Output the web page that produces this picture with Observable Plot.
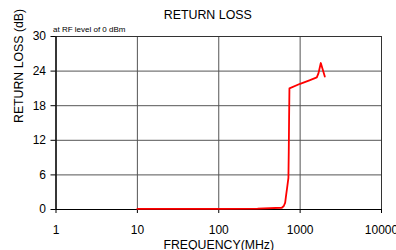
<!DOCTYPE html>
<html>
<head>
<meta charset="utf-8">
<script src="https://cdn.jsdelivr.net/npm/d3@7"></script>
<script src="https://cdn.jsdelivr.net/npm/@observablehq/plot@0.6"></script>
<style>
  html, body { margin: 0; padding: 0; background: #fff; overflow: hidden; }
  #chart { width: 396px; height: 250px; overflow: hidden; }
</style>
</head>
<body>
<div id="chart"></div>
<script>
// Data
const freqMHz = [10, 100, 300, 596, 630, 655, 673, 690, 718, 725, 732, 739, 1000, 1300, 1603, 1679, 1795, 2010];
const returnLossDb = [0.1, 0.1, 0.15, 0.3, 0.6, 1.2, 2.5, 3.6, 5.5, 10, 16, 21, 21.8, 22.4, 22.9, 23.6, 25.4, 23.05];
const xTicks = [1, 10, 100, 1000, 10000];
const yTicks = [0, 6, 12, 18, 24, 30];
const titleText = "RETURN LOSS";
const subtitleText = "at RF level of 0 dBm";
const xLabel = "FREQUENCY(MHz)";
const yLabel = "RETURN LOSS (dB)";

const data = freqMHz.map((f, i) => ({f, v: returnLossDb[i]}));
const font = "Liberation Sans, Arial, sans-serif";

const chart = Plot.plot({
  width: 396,
  height: 250,
  marginLeft: 55.5,
  marginRight: 15,
  marginTop: 36,
  marginBottom: 41,
  style: {fontFamily: font, fontSize: "12px", color: "#000", background: "#fff"},
  x: {type: "log", domain: [1, 10000]},
  y: {domain: [0, 30]},
  marks: [
    Plot.gridY(yTicks, {stroke: "#555", strokeOpacity: 1}),
    Plot.gridX(xTicks, {stroke: "#555", strokeOpacity: 1}),
    Plot.frame({stroke: "#333"}),
    Plot.axisY(yTicks, {tickSize: 5, tickPadding: 5, fontSize: 12, label: null, tickFormat: d => String(d), stroke: "#000"}),
    Plot.axisX(xTicks, {tickSize: 4, tickPadding: 12, fontSize: 12, label: null, tickFormat: d => String(d), stroke: "#000"}),
    Plot.ruleY([0], {stroke: "#000"}),
    Plot.ruleX([1], {stroke: "#000"}),
    Plot.line(data, {x: "f", y: "v", stroke: "#ff0000", strokeWidth: 1.8}),
    Plot.text([titleText], {frameAnchor: "top", dx: -11, dy: -26, fontSize: 12.4, fill: "#000"}),
    Plot.text([subtitleText], {frameAnchor: "top-left", textAnchor: "start", dx: -3, dy: -10.5, fontSize: 8, fill: "#000"}),
    Plot.text([xLabel], {frameAnchor: "bottom", dy: 39.5, fontSize: 12.3, fill: "#000"}),
    Plot.text([yLabel], {frameAnchor: "left", dx: -37, rotate: -90, fontSize: 12.3, fill: "#000"})
  ]
});
document.getElementById("chart").appendChild(chart);
</script>
</body>
</html>
